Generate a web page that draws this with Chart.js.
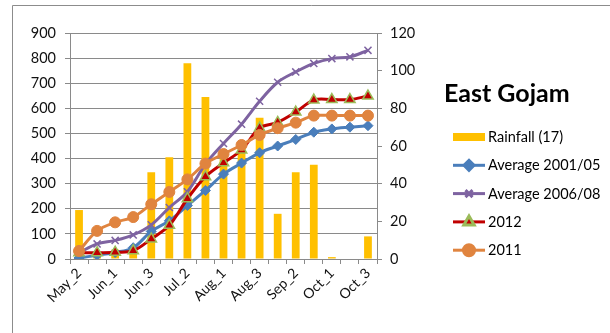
<!DOCTYPE html>
<html>
<head>
<meta charset="utf-8">
<script src="https://cdn.jsdelivr.net/npm/chart.js@4/dist/chart.umd.min.js"></script>
<style>
  html, body { margin: 0; padding: 0; background: #fff; }
  #wrap { width: 610px; height: 333px; }
</style>
</head>
<body>
<div id="wrap"><canvas id="c" width="610" height="333"></canvas></div>
<script>
// Dekads of the season
const categories = ['May_2','May_3','Jun_1','Jun_2','Jun_3','Jul_1','Jul_2','Jul_3','Aug_1','Aug_2','Aug_3','Sep_1','Sep_2','Sep_3','Oct_1','Oct_2','Oct_3'];

// Dekadal rainfall (right axis)
const rainfall = [26, 2, 5, 5, 46, 54, 104, 86, 57, 60, 75, 24, 46, 50, 1, 0, 12];

// Cumulative series (left axis)
const avg2001_05 = [4, 15, 26, 45, 110, 152, 213, 273, 338, 382, 423, 450, 476, 505, 518, 525, 531];
const avg2006_08 = [25, 60, 74, 96, 136, 205, 268, 378, 460, 537, 628, 704, 745, 779, 798, 805, 831];
const y2012 = [25, 25, 27, 33, 80, 134, 240, 328, 383, 434, 522, 544, 585, 633, 635, 635, 649];
const y2011 = [32, 112, 146, 167, 218, 267, 317, 380, 418, 454, 494, 521, 543, 571, 571, 571, 571];

const leftTicks = [0, 100, 200, 300, 400, 500, 600, 700, 800, 900];
const rightTicks = [0, 20, 40, 60, 80, 100, 120];
const chartTitle = 'East Gojam';

const FONT = 'Lato, "Open Sans", "Liberation Sans", sans-serif';
const GRID = '#8a8a8a';

// white background and the chart-area frame
const frame = {
  id: 'frame',
  beforeDraw(chart) {
    const ctx = chart.ctx;
    ctx.save();
    ctx.fillStyle = '#fff';
    ctx.fillRect(0, 0, chart.width, chart.height);
    ctx.strokeStyle = '#8c8c8c';
    ctx.lineWidth = 1;
    ctx.beginPath();
    ctx.moveTo(12.5, chart.height);
    ctx.lineTo(12.5, 5.5);
    ctx.lineTo(chart.width, 5.5);
    ctx.stroke();
    ctx.restore();
  }
};

// title and legend column to the right of the plot
const sideLegend = {
  id: 'sideLegend',
  afterDraw(chart) {
    const ctx = chart.ctx;
    ctx.save();
    ctx.textBaseline = 'middle';
    ctx.textAlign = 'left';
    ctx.fillStyle = '#000';
    ctx.font = 'bold 25px ' + FONT;
    ctx.fillText(chartTitle, 444, 94);

    const x0 = 453, x1 = 485, xm = (x0 + x1) / 2;
    ctx.font = '14.5px ' + FONT;
    chart.data.datasets.forEach((ds, i) => {
      const y = 137 + i * 28.3;
      if (ds.type === 'bar') {
        ctx.fillStyle = ds.backgroundColor;
        ctx.fillRect(x0, y - 4, x1 - x0, 8);
      } else {
        ctx.strokeStyle = ds.borderColor;
        ctx.lineWidth = ds.borderWidth;
        ctx.beginPath();
        ctx.moveTo(x0, y);
        ctx.lineTo(x1, y);
        ctx.stroke();
        ctx.fillStyle = ds.pointBackgroundColor;
        ctx.strokeStyle = ds.pointBorderColor;
        Chart.helpers.drawPoint(ctx, {
          pointStyle: ds.pointStyle,
          radius: ds.pointRadius,
          borderWidth: ds.pointBorderWidth,
          rotation: 0
        }, xm, y);
      }
      ctx.fillStyle = '#000';
      ctx.fillText(ds.label, 488, y + 0.5);
    });
    ctx.restore();
  }
};

const lineBase = {
  type: 'line',
  yAxisID: 'yLeft',
  borderWidth: 3,
  tension: 0.35,
  fill: false
};

new Chart(document.getElementById('c'), {
  data: {
    labels: categories,
    datasets: [
      {
        type: 'bar', label: 'Rainfall (17)', data: rainfall, yAxisID: 'yRight',
        backgroundColor: '#FFC000', barPercentage: 0.43, categoryPercentage: 1, order: 5
      },
      Object.assign({}, lineBase, {
        label: 'Average 2001/05', data: avg2001_05, order: 4,
        borderColor: '#4A7EBB', pointStyle: 'rectRot', pointRadius: 5, pointBorderWidth: 1,
        pointBackgroundColor: '#4A7EBB', pointBorderColor: '#4A7EBB'
      }),
      Object.assign({}, lineBase, {
        label: 'Average 2006/08', data: avg2006_08, order: 3,
        borderColor: '#7E63A1', pointStyle: 'crossRot', pointRadius: 5, pointBorderWidth: 1.5,
        pointBackgroundColor: '#7E63A1', pointBorderColor: '#7E63A1'
      }),
      Object.assign({}, lineBase, {
        label: '2012', data: y2012, order: 2,
        borderColor: '#C00000', pointStyle: 'triangle', pointRadius: 6, pointBorderWidth: 1.5,
        pointBackgroundColor: '#C00000', pointBorderColor: '#9BBB59'
      }),
      Object.assign({}, lineBase, {
        label: '2011', data: y2011, order: 1,
        borderColor: '#E0843F', pointStyle: 'circle', pointRadius: 5.5, pointBorderWidth: 1,
        pointBackgroundColor: '#E0843F', pointBorderColor: '#E0843F'
      })
    ]
  },
  options: {
    responsive: false,
    animation: false,
    devicePixelRatio: 1,
    layout: { padding: { top: 33, left: 0, right: 0, bottom: 0 } },
    plugins: { legend: { display: false }, tooltip: { enabled: false } },
    scales: {
      x: {
        offset: true,
        grid: { offset: true, drawOnChartArea: false, tickLength: 5, color: GRID },
        border: { color: GRID },
        ticks: {
          autoSkip: false, maxRotation: 45, minRotation: 45, padding: 1,
          color: '#111', font: { family: FONT, size: 14 },
          callback(value, index) { return index % 2 === 0 ? categories[index] : ''; }
        },
        afterFit(scale) { scale.height = 74; }
      },
      yLeft: {
        position: 'left', min: 0, max: 900,
        afterBuildTicks(scale) { scale.ticks = leftTicks.map(v => ({ value: v })); },
        grid: { color: GRID, tickLength: 5 },
        border: { color: GRID },
        ticks: { padding: 9, color: '#111', font: { family: FONT, size: 14.5 } },
        afterFit(scale) { scale.width = 70; }
      },
      yRight: {
        position: 'right', min: 0, max: 120,
        afterBuildTicks(scale) { scale.ticks = rightTicks.map(v => ({ value: v })); },
        grid: { drawOnChartArea: false, tickLength: 5, color: GRID },
        border: { color: GRID },
        ticks: { padding: 8, color: '#111', font: { family: FONT, size: 14.5 } },
        afterFit(scale) { scale.width = 233; }
      }
    }
  },
  plugins: [frame, sideLegend]
});
</script>
</body>
</html>
